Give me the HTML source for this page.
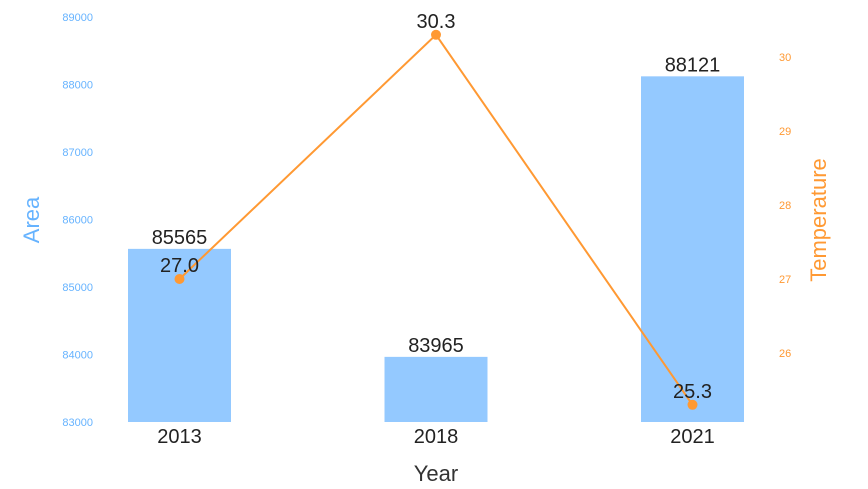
<!DOCTYPE html>
<html><head><meta charset="utf-8"><style>
html,body{margin:0;padding:0;background:#fff;}
svg{display:block;font-family:"Liberation Sans",sans-serif;}
</style></head><body>
<svg id="chart" width="868" height="489"></svg>
<script>
const categories=["2013","2018","2021"];
const areaValues=[85565,83965,88121];
const tempValues=[27.0,30.3,25.3];
const leftTicks=[83000,84000,85000,86000,87000,88000,89000];
const rightTicks=[26,27,28,29,30];
const NS="http://www.w3.org/2000/svg";
const svg=document.getElementById('chart');
function yL(v){return 422-(v-83000)*0.0675;}
function yR(v){return 353-(v-26)*74;}
function xC(i){return 179.5+i*256.5;}
function mk(tag,attrs,text){const e=document.createElementNS(NS,tag);for(const k in attrs)e.setAttribute(k,attrs[k]);if(text!==undefined)e.textContent=text;svg.appendChild(e);return e;}
leftTicks.forEach(t=>{const e=mk('text',{x:93,y:yL(t)+4,'text-anchor':'end','font-size':11,fill:'#66b3ff'},t);

});
rightTicks.forEach(t=>{const e=mk('text',{x:779,y:yR(t)+4,'font-size':11,fill:'#ff9933'},t);

});
areaValues.forEach((v,i)=>{const b=mk('rect',{x:xC(i)-51.5,y:yL(v),width:103,height:422-yL(v),fill:'#94c9ff'});


const l=mk('text',{x:xC(i),y:yL(v)-5,'text-anchor':'middle','font-size':20,fill:'#222'},v);


const c=mk('text',{x:xC(i),y:443,'text-anchor':'middle','font-size':20,fill:'#222'},categories[i]);

});
const pts=tempValues.map((v,i)=>xC(i)+','+yR(v)).join(' ');
const pl=mk('polyline',{points:pts,fill:'none',stroke:'#ff9933','stroke-width':2});


tempValues.forEach((v,i)=>{const c=mk('circle',{cx:xC(i),cy:yR(v),r:5,fill:'#ff9933'});


const l=mk('text',{x:xC(i),y:yR(v)-7,'text-anchor':'middle','font-size':20,fill:'#222'},v.toFixed(1));

});
const xt=mk('text',{x:436,y:481,'text-anchor':'middle','font-size':22,fill:'#333'},'Year');


const yt=mk('text',{x:0,y:0,'text-anchor':'middle','font-size':22,fill:'#66b3ff',transform:'translate(39,220) rotate(-90)'},'Area');


const rt=mk('text',{x:0,y:0,'text-anchor':'middle','font-size':22,fill:'#ff9933',transform:'translate(826,220) rotate(-90)'},'Temperature');


</script>
</body></html>
